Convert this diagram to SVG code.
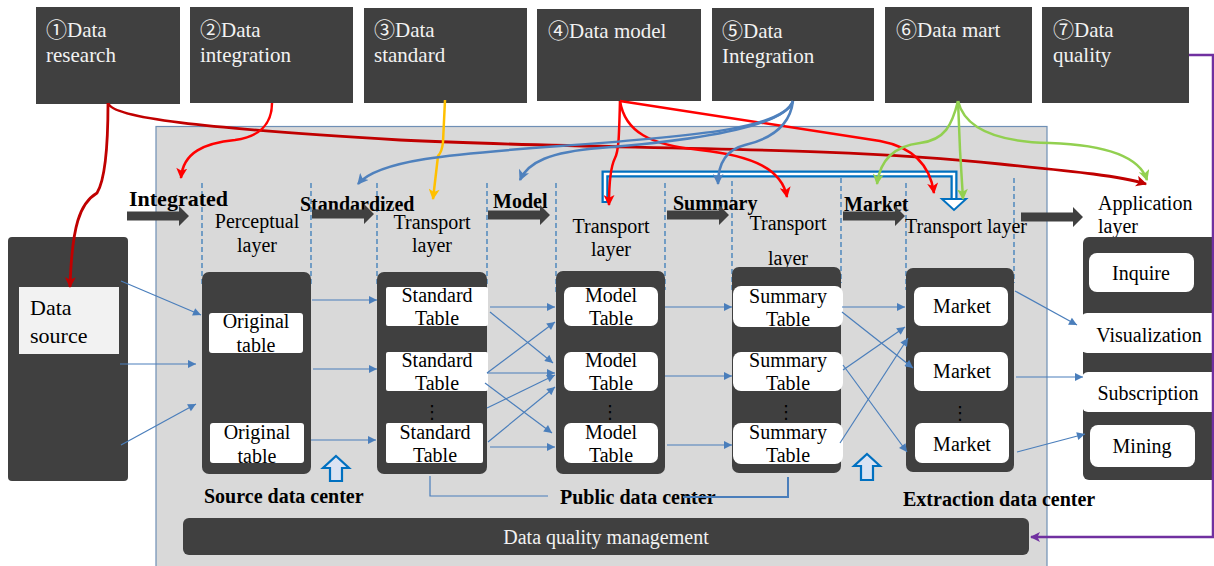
<svg xmlns="http://www.w3.org/2000/svg" width="1214" height="566" viewBox="0 0 1214 566">
  <style>
    .hdr { fill: #404040; }
    .hdr-t { font-family: "Liberation Serif", "Noto Sans CJK SC", "DejaVu Serif", serif; font-size: 21px; fill: #f2f2f2; }
    .t { font-family: "Liberation Serif", "DejaVu Serif", serif; font-size: 20px; fill: #000; }
    .tc { font-family: "Liberation Serif", "DejaVu Serif", serif; font-size: 20px; fill: #000; text-anchor: middle; }
    .tb { font-family: "Liberation Serif", "DejaVu Serif", serif; font-size: 20px; font-weight: bold; fill: #000; }
    .dots { font-family: "DejaVu Sans", sans-serif; font-size: 18px; fill: #000; text-anchor: middle; }
    .col { fill: #404040; }
    .cell { fill: #ffffff; }
    .dash { stroke: #2e75b6; stroke-width: 1.2; stroke-dasharray: 5 3; fill: none; }
    .flow { stroke: #4a7ebb; stroke-width: 1.2; fill: none; marker-end: url(#ah-thin); }
    .blk { fill: #404040; }
    .c-red { stroke: #ff0000; stroke-width: 2.5; fill: none; marker-end: url(#ah-red); }
    .c-dred { stroke: #c00000; stroke-width: 2.8; fill: none; marker-end: url(#ah-dred); }
    .c-blue { stroke: #4f81bd; stroke-width: 2.5; fill: none; marker-end: url(#ah-blue); }
    .c-green { stroke: #92d050; stroke-width: 2.5; fill: none; marker-end: url(#ah-green); }
    .c-yel { stroke: #ffc000; stroke-width: 2.5; fill: none; marker-end: url(#ah-yel); }
    .up { fill: #dae3f3; stroke: #0070c0; stroke-width: 2.2; }
  </style>
  <defs>
    <marker id="ah-thin" viewBox="0 0 10 10" refX="10" refY="5" markerWidth="9" markerHeight="8" markerUnits="userSpaceOnUse" orient="auto">
      <path d="M0,0 L10,5 L0,10 z" fill="#4a7ebb"/>
    </marker>
    <marker id="ah-red" viewBox="0 0 10 10" refX="9" refY="5" markerWidth="12" markerHeight="11" markerUnits="userSpaceOnUse" orient="auto">
      <path d="M0,0 L10,5 L0,10 L2.5,5 z" fill="#ff0000"/>
    </marker>
    <marker id="ah-dred" viewBox="0 0 10 10" refX="9" refY="5" markerWidth="12" markerHeight="11" markerUnits="userSpaceOnUse" orient="auto">
      <path d="M0,0 L10,5 L0,10 L2.5,5 z" fill="#c00000"/>
    </marker>
    <marker id="ah-blue" viewBox="0 0 10 10" refX="9" refY="5" markerWidth="12" markerHeight="11" markerUnits="userSpaceOnUse" orient="auto">
      <path d="M0,0 L10,5 L0,10 L2.5,5 z" fill="#4f81bd"/>
    </marker>
    <marker id="ah-green" viewBox="0 0 10 10" refX="9" refY="5" markerWidth="12" markerHeight="11" markerUnits="userSpaceOnUse" orient="auto">
      <path d="M0,0 L10,5 L0,10 L2.5,5 z" fill="#92d050"/>
    </marker>
    <marker id="ah-yel" viewBox="0 0 10 10" refX="9" refY="5" markerWidth="12" markerHeight="11" markerUnits="userSpaceOnUse" orient="auto">
      <path d="M0,0 L10,5 L0,10 L2.5,5 z" fill="#ffc000"/>
    </marker>
    <marker id="ah-purple" viewBox="0 0 10 10" refX="9" refY="5" markerWidth="11" markerHeight="10" markerUnits="userSpaceOnUse" orient="auto">
      <path d="M0,0 L10,5 L0,10 L2.5,5 z" fill="#7030a0"/>
    </marker>
    <!-- dark block arrow, 62 long, pointing right -->
    <polygon id="blk-arrow" points="0,-4.5 52,-4.5 52,-10 62,0 52,10 52,4.5 0,4.5"/>
  </defs>

  <rect width="1214" height="566" fill="#ffffff"/>

  <!-- warehouse panel -->
  <rect id="panel" x="156" y="126.5" width="891" height="445" fill="#d9d9d9" stroke="#6f8fb5" stroke-width="1.2"/>

  <!-- step headers -->
  <g id="step1"><rect class="hdr" x="36" y="7" width="144" height="97"/><text class="hdr-t" x="46" y="37">①Data</text><text class="hdr-t" x="46" y="62">research</text></g>
  <g id="step2"><rect class="hdr" x="190" y="7" width="163" height="96"/><text class="hdr-t" x="200" y="37">②Data</text><text class="hdr-t" x="200" y="62">integration</text></g>
  <g id="step3"><rect class="hdr" x="364" y="8" width="163" height="95"/><text class="hdr-t" x="374" y="37">③Data</text><text class="hdr-t" x="374" y="62">standard</text></g>
  <g id="step4"><rect class="hdr" x="537" y="9" width="164" height="92"/><text class="hdr-t" x="548" y="38">④Data model</text></g>
  <g id="step5"><rect class="hdr" x="712" y="8" width="162" height="93"/><text class="hdr-t" x="722" y="38">⑤Data</text><text class="hdr-t" x="722" y="63">Integration</text></g>
  <g id="step6"><rect class="hdr" x="885" y="7" width="147" height="96"/><text class="hdr-t" x="896" y="37">⑥Data mart</text></g>
  <g id="step7"><rect class="hdr" x="1042" y="7" width="147" height="96"/><text class="hdr-t" x="1053" y="37">⑦Data</text><text class="hdr-t" x="1053" y="62">quality</text></g>

  <!-- layer boundaries -->
  <g id="boundaries">
    <line class="dash" x1="202" y1="183" x2="202" y2="285"/>
    <line class="dash" x1="311" y1="183" x2="311" y2="285"/>
    <line class="dash" x1="377" y1="183" x2="377" y2="285"/>
    <line class="dash" x1="487" y1="183" x2="487" y2="285"/>
    <line class="dash" x1="556" y1="183" x2="556" y2="293"/>
    <line class="dash" x1="665" y1="183" x2="665" y2="290"/>
    <line class="dash" x1="732" y1="181" x2="732" y2="290"/>
    <line class="dash" x1="841" y1="178" x2="841" y2="283"/>
    <line class="dash" x1="906" y1="183" x2="906" y2="290"/>
    <line class="dash" x1="1014" y1="178" x2="1014" y2="283"/>
  </g>

  <!-- stage labels and block arrows -->
  <g id="stages">
    <text class="tb" x="129" y="206" style="font-size:22px">Integrated</text>
    <use href="#blk-arrow" class="blk" x="127" y="216"/>
    <text class="tb" x="300" y="211">Standardized</text>
    <use href="#blk-arrow" class="blk" x="312" y="214"/>
    <text class="tb" x="493" y="208">Model</text>
    <use href="#blk-arrow" class="blk" x="488" y="215"/>
    <text class="tb" x="673" y="210">Summary</text>
    <use href="#blk-arrow" class="blk" x="667" y="215"/>
    <text class="tb" x="844" y="211">Market</text>
    <use href="#blk-arrow" class="blk" x="843" y="216"/>
    <use href="#blk-arrow" class="blk" x="1021" y="217"/>
  </g>

  <!-- layer titles -->
  <g id="layer-titles">
    <text class="tc" x="257" y="228">Perceptual</text><text class="tc" x="257" y="252">layer</text>
    <text class="tc" x="432" y="229">Transport</text><text class="tc" x="432" y="252">layer</text>
    <text class="tc" x="611" y="233">Transport</text><text class="tc" x="611" y="256">layer</text>
    <text class="tc" x="788" y="230">Transport</text><text class="tc" x="788" y="265">layer</text>
    <text class="t" x="905" y="233">Transport layer</text>
    <text class="t" x="1098" y="210">Application</text><text class="t" x="1098" y="233">layer</text>
  </g>

  <!-- data source -->
  <g id="data-source">
    <rect class="col" x="8" y="237" width="120" height="244" rx="4"/>
    <rect x="19" y="287" width="100" height="67" fill="#f2f2f2"/>
    <text class="t" x="30" y="315" style="font-size:22px">Data</text>
    <text class="t" x="30" y="343" style="font-size:22px">source</text>
  </g>

  <!-- perceptual layer -->
  <g id="perceptual">
    <rect class="col" x="202" y="272" width="109" height="202" rx="7"/>
    <rect class="cell" x="209" y="313" width="94" height="40" rx="3"/>
    <text class="tc" x="256" y="328">Original</text><text class="tc" x="256" y="352">table</text>
    <rect class="cell" x="210" y="423" width="94" height="40" rx="3"/>
    <text class="tc" x="257" y="439">Original</text><text class="tc" x="257" y="463">table</text>
  </g>

  <!-- standard transport layer -->
  <g id="standard">
    <rect class="col" x="377" y="272" width="110" height="202" rx="7"/>
    <rect class="cell" x="386" y="287" width="102" height="39" rx="2"/>
    <text class="tc" x="437" y="302">Standard</text><text class="tc" x="437" y="325">Table</text>
    <rect class="cell" x="386" y="352" width="102" height="39" rx="2"/>
    <text class="tc" x="437" y="367">Standard</text><text class="tc" x="437" y="390">Table</text>
    <text class="dots" x="432" y="418">⋮</text>
    <rect class="cell" x="386" y="423" width="97" height="40" rx="2"/>
    <text class="tc" x="435" y="439">Standard</text><text class="tc" x="435" y="462">Table</text>
  </g>

  <!-- model transport layer -->
  <g id="model">
    <rect class="col" x="556" y="271" width="109" height="203" rx="7"/>
    <rect class="cell" x="564" y="287" width="94" height="39" rx="7"/>
    <text class="tc" x="611" y="302">Model</text><text class="tc" x="611" y="325">Table</text>
    <rect class="cell" x="564" y="352" width="94" height="39" rx="7"/>
    <text class="tc" x="611" y="367">Model</text><text class="tc" x="611" y="390">Table</text>
    <text class="dots" x="610" y="418">⋮</text>
    <rect class="cell" x="564" y="423" width="94" height="40" rx="7"/>
    <text class="tc" x="611" y="439">Model</text><text class="tc" x="611" y="462">Table</text>
  </g>

  <!-- summary transport layer -->
  <g id="summary">
    <rect class="col" x="732" y="267" width="109" height="206" rx="7"/>
    <rect class="cell" x="733" y="286" width="110" height="41" rx="8"/>
    <text class="tc" x="788" y="303">Summary</text><text class="tc" x="788" y="326">Table</text>
    <rect class="cell" x="733" y="352" width="110" height="39" rx="8"/>
    <text class="tc" x="788" y="367">Summary</text><text class="tc" x="788" y="390">Table</text>
    <text class="dots" x="786" y="418">⋮</text>
    <rect class="cell" x="733" y="423" width="110" height="41" rx="8"/>
    <text class="tc" x="788" y="439">Summary</text><text class="tc" x="788" y="462">Table</text>
  </g>

  <!-- market transport layer -->
  <g id="market">
    <rect class="col" x="906" y="268" width="108" height="204" rx="7"/>
    <rect class="cell" x="914" y="287" width="94" height="39" rx="7"/>
    <text class="tc" x="962" y="313">Market</text>
    <rect class="cell" x="914" y="352" width="94" height="39" rx="7"/>
    <text class="tc" x="962" y="378">Market</text>
    <text class="dots" x="960" y="419">⋮</text>
    <rect class="cell" x="915" y="423" width="94" height="40" rx="7"/>
    <text class="tc" x="962" y="451">Market</text>
  </g>

  <!-- application layer -->
  <g id="application">
    <rect class="col" x="1083" y="237" width="140" height="243" rx="6"/>
    <rect class="cell" x="1089" y="253" width="105" height="39" rx="8"/>
    <text class="tc" x="1141" y="280">Inquire</text>
    <rect class="cell" x="1081" y="313" width="140" height="40" rx="6"/>
    <text class="tc" x="1149" y="342">Visualization</text>
    <rect class="cell" x="1082" y="372" width="140" height="40" rx="6"/>
    <text class="tc" x="1148" y="400">Subscription</text>
    <rect class="cell" x="1090" y="425" width="105" height="42" rx="8"/>
    <text class="tc" x="1142" y="453">Mining</text>
  </g>

  <!-- data centre labels -->
  <g id="centers">
    <text class="tb" x="204" y="503">Source data center</text>
    <text class="tb" x="560" y="504">Public data center</text>
    <text class="tb" x="903" y="506">Extraction data center</text>
    <polygon class="up" points="336,456 349,468 342,468 342,481 330,481 330,468 323,468"/>
    <polygon class="up" points="867,454 880,466 873,466 873,480 861,480 861,466 854,466"/>
  </g>

  <!-- data quality management bar -->
  <g id="quality-bar">
    <rect class="col" x="183" y="518" width="846" height="37" rx="6"/>
    <text x="606" y="544" style="font-family:'Liberation Serif','DejaVu Serif',serif;font-size:20px;fill:#f2f2f2;text-anchor:middle">Data quality management</text>
  </g>

  <!-- connectors -->
  <g id="connectors">
    <!-- table-to-table flows -->
    <path class="flow" d="M121,281 L201,315"/>
    <path class="flow" d="M120,364 L196,364"/>
    <path class="flow" d="M121,445 L196,404"/>
    <path class="flow" d="M312,300 L377,300"/>
    <path class="flow" d="M313,369 L377,369"/>
    <path class="flow" d="M311,440 L376,440"/>
    <path class="flow" d="M490,307 L555,307"/>
    <path class="flow" d="M490,312 L553,363"/>
    <path class="flow" d="M487,373 L555,322"/>
    <path class="flow" d="M487,373 L555,373"/>
    <path class="flow" d="M485,383 L552,433"/>
    <path class="flow" d="M487,408 L555,375"/>
    <path class="flow" d="M488,442 L555,387"/>
    <path class="flow" d="M490,447 L555,447"/>
    <path class="flow" d="M665,307 L732,307"/>
    <path class="flow" d="M665,376 L732,376"/>
    <path class="flow" d="M667,445 L732,445"/>
    <path class="flow" d="M842,307 L905,307"/>
    <path class="flow" d="M842,312 L913,368"/>
    <path class="flow" d="M843,370 L905,327"/>
    <path class="flow" d="M843,365 L907,452"/>
    <path class="flow" d="M840,443 L908,338"/>
    <path class="flow" d="M1015,291 L1077,325"/>
    <path class="flow" d="M1016,377 L1083,377"/>
    <path class="flow" d="M1017,452 L1085,434"/>

    <!-- public data center bracket -->
    <path d="M430,476 L430,496 L548,496" fill="none" stroke="#4a7ebb" stroke-width="1.2"/>
    <path d="M683,497 L788,497 L788,477" fill="none" stroke="#4a7ebb" stroke-width="2"/>

    <!-- hollow bracket over model / summary / market -->
    <path d="M605,203 L605,174 L954,174 L954,200" fill="none" stroke="#0070c0" stroke-width="7" stroke-linejoin="miter"/>
    <path d="M605,201 L605,174 L954,174 L954,202" fill="none" stroke="#ffffff" stroke-width="2.5" stroke-linejoin="miter"/>
    <polygon points="942,199 966,199 954,210" fill="#ffffff" stroke="#0070c0" stroke-width="2"/>

    <!-- step 1 -->
    <path class="c-dred" d="M108,103 C108,150 105,180 97,193 C80,203 72,225 70,287"/>
    <path class="c-dred" d="M108,103 C112,118 200,128 400,140 C600,150 820,145 1000,164 C1080,172 1120,176 1146,184"/>
    <!-- step 2 -->
    <path class="c-red" d="M272,103 C272,125 258,137 235,140 C205,143 183,152 181,178"/>
    <!-- step 3 -->
    <path class="c-yel" d="M445,100 L443,142 Q442,152 438,156 L433,199"/>
    <!-- step 4 -->
    <path class="c-red" d="M620,101 C619,135 619,150 615,158 C610,168 609,185 609,205"/>
    <path class="c-red" d="M620,101 C625,132 650,145 700,150 C755,156 782,170 787,197"/>
    <path class="c-red" d="M620,101 L880,141 Q928,150 934,193"/>
    <!-- step 5 -->
    <path class="c-blue" d="M793,101 C783,128 700,136 560,146 C450,154 378,160 358,184"/>
    <path class="c-blue" d="M793,101 C785,126 700,140 600,148 C550,152 528,162 520,180"/>
    <path class="c-blue" d="M793,101 C790,126 770,139 745,145 C725,150 718,165 718,184"/>
    <!-- step 6 -->
    <path class="c-green" d="M958,101 C952,125 945,140 920,143 C895,146 880,160 877,184"/>
    <path class="c-green" d="M958,101 L960,150 L963,199"/>
    <path class="c-green" d="M958,101 C965,130 1000,142 1050,143 C1110,145 1140,158 1147,180"/>
    <!-- step 7 -->
    <path d="M1189,55 L1213,55 L1213,537 L1031,537" fill="none" stroke="#7030a0" stroke-width="2.5" marker-end="url(#ah-purple)"/>
  </g>
</svg>
